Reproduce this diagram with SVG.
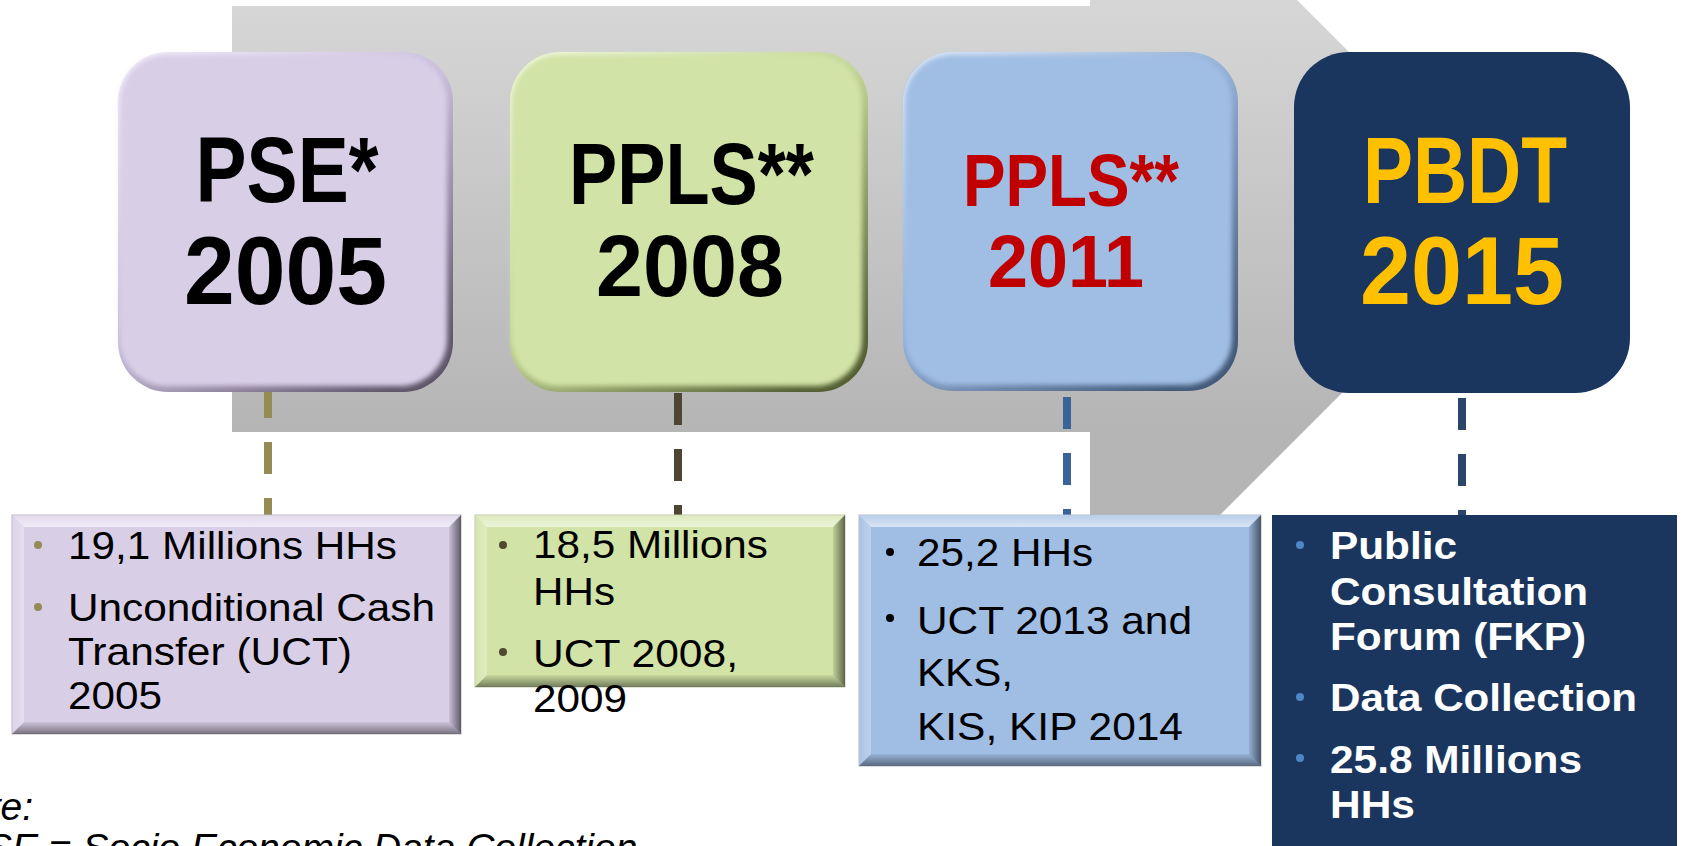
<svg xmlns="http://www.w3.org/2000/svg" width="1681" height="846" viewBox="0 0 1681 846">
<defs>
  <linearGradient id="arrowGrad" gradientUnits="userSpaceOnUse" x1="0" y1="6" x2="0" y2="432">
    <stop offset="0" stop-color="#d6d6d6"/>
    <stop offset="1" stop-color="#b5b5b5"/>
  </linearGradient>
  <linearGradient id="rimPurple" x1="0" y1="0" x2="0.8" y2="1">
    <stop offset="0" stop-color="#f4f0fa"/>
    <stop offset="0.5" stop-color="#cbbfdc"/>
    <stop offset="1" stop-color="#5f566a"/>
  </linearGradient>
  <linearGradient id="rimGreen" x1="0" y1="0" x2="0.8" y2="1">
    <stop offset="0" stop-color="#f4f9e2"/>
    <stop offset="0.5" stop-color="#c3d596"/>
    <stop offset="1" stop-color="#545f33"/>
  </linearGradient>
  <linearGradient id="rimBlue" x1="0" y1="0" x2="0.8" y2="1">
    <stop offset="0" stop-color="#e2eefc"/>
    <stop offset="0.5" stop-color="#93b0d6"/>
    <stop offset="1" stop-color="#435a7a"/>
  </linearGradient>
  <linearGradient id="bevTop" x1="0" y1="0" x2="0" y2="1">
    <stop offset="0" stop-color="#ffffff" stop-opacity="0.25"/>
    <stop offset="1" stop-color="#ffffff" stop-opacity="0.6"/>
  </linearGradient>
  <linearGradient id="bevLeft" x1="0" y1="0" x2="1" y2="0">
    <stop offset="0" stop-color="#ffffff" stop-opacity="0.1"/>
    <stop offset="1" stop-color="#ffffff" stop-opacity="0.3"/>
  </linearGradient>
  <linearGradient id="bevRight" x1="0" y1="0" x2="1" y2="0">
    <stop offset="0" stop-color="#000000" stop-opacity="0.08"/>
    <stop offset="1" stop-color="#000000" stop-opacity="0.55"/>
  </linearGradient>
  <linearGradient id="bevBottom" x1="0" y1="0" x2="0" y2="1">
    <stop offset="0" stop-color="#000000" stop-opacity="0.05"/>
    <stop offset="1" stop-color="#000000" stop-opacity="0.45"/>
  </linearGradient>
  <filter id="soft" x="-5%" y="-5%" width="110%" height="110%">
    <feGaussianBlur stdDeviation="2.5"/>
  </filter>
  <filter id="softer" x="-10%" y="-50%" width="120%" height="200%">
    <feGaussianBlur stdDeviation="2"/>
  </filter>
</defs>
<style>
  .title { font-family: "Liberation Sans", Arial, sans-serif; font-weight: bold; text-anchor: middle; }
  .body { font-family: "Liberation Sans", Arial, sans-serif; font-size: 39px; fill: #000000; }
  .bold { font-weight: bold; fill: #ffffff; }
  .note { font-family: "Liberation Sans", Arial, sans-serif; font-size: 39px; font-style: italic; fill: #000000; }
  .conn { fill: none; stroke-width: 8; stroke-dasharray: 32 24; }
  .bt { fill: url(#bevTop); }
  .bl { fill: url(#bevLeft); }
  .br { fill: url(#bevRight); }
  .bb { fill: url(#bevBottom); }
  .hl { fill: none; stroke: #ffffff; stroke-opacity: 0.55; stroke-width: 4; filter: url(#softer); }
</style>
<rect x="0" y="0" width="1681" height="846" fill="#ffffff"/>

<!-- background arrow -->
<g id="arrow">
  <polygon points="232,6 1090,6 1090,-207 1516,219 1090,645 1090,432 232,432" fill="url(#arrowGrad)"/>
</g>

<!-- connectors -->
<g id="connectors">
  <line class="conn" x1="268" y1="386" x2="268" y2="515" stroke="#958b55"/>
  <line class="conn" x1="678" y1="393" x2="678" y2="515" stroke="#4e4630"/>
  <line class="conn" x1="1067" y1="397" x2="1067" y2="515" stroke="#3a6399"/>
  <line class="conn" x1="1462" y1="398" x2="1462" y2="515" stroke="#2b4669"/>
</g>

<!-- top nodes -->
<g id="node-pse2005">
  <rect x="118" y="52" width="335" height="340" rx="50" fill="url(#rimPurple)"/>
  <rect x="120" y="55" width="327" height="331" rx="47" fill="#d8cfe7" filter="url(#soft)"/>
  <path class="hl" d="M165,62 H405"/>
  <text class="title" x="287" y="202" font-size="93" textLength="183" lengthAdjust="spacingAndGlyphs" fill="#000000">PSE*</text>
  <text class="title" x="285.5" y="304" font-size="96" textLength="203" lengthAdjust="spacingAndGlyphs" fill="#000000">2005</text>
</g>

<g id="node-ppls2008">
  <rect x="510" y="52" width="358" height="340" rx="50" fill="url(#rimGreen)"/>
  <rect x="512" y="55" width="350" height="331" rx="47" fill="#d1e3a6" filter="url(#soft)"/>
  <path class="hl" d="M557,62 H820"/>
  <text class="title" x="691.5" y="204" font-size="88" textLength="245" lengthAdjust="spacingAndGlyphs" fill="#000000">PPLS**</text>
  <text class="title" x="690" y="296" font-size="88" textLength="188" lengthAdjust="spacingAndGlyphs" fill="#000000">2008</text>
</g>

<g id="node-ppls2011">
  <rect x="903" y="52" width="335" height="339" rx="50" fill="url(#rimBlue)"/>
  <rect x="905" y="55" width="327" height="330" rx="47" fill="#a0bde3" filter="url(#soft)"/>
  <path class="hl" d="M950,62 H1190"/>
  <text class="title" x="1071" y="206" font-size="74" textLength="216" lengthAdjust="spacingAndGlyphs" fill="#c00000">PPLS**</text>
  <text class="title" x="1066" y="287" font-size="75" textLength="156" lengthAdjust="spacingAndGlyphs" fill="#c00000">2011</text>
</g>

<g id="node-pbdt2015">
  <rect x="1294" y="52" width="336" height="341" rx="55" fill="#1a365e"/>
  <text class="title" x="1465" y="203" font-size="95" textLength="204" lengthAdjust="spacingAndGlyphs" fill="#ffc000">PBDT</text>
  <text class="title" x="1462" y="304" font-size="96" textLength="204" lengthAdjust="spacingAndGlyphs" fill="#ffc000">2015</text>
</g>

<!-- bottom nodes -->
<g id="detail-pse2005">
  <rect x="12" y="515" width="449" height="219" fill="#d8cfe7" stroke="#bdb6c6" stroke-width="1"/>
  <polygon class="bt" points="12,515 461,515 449,527 24,527"/>
  <polygon class="bl" points="12,515 24,527 24,722 12,734"/>
  <polygon class="br" points="461,515 461,734 449,722 449,527"/>
  <polygon class="bb" points="12,734 461,734 449,722 24,722"/>
  <circle cx="38" cy="545" r="4" fill="#958b55"/>
  <circle cx="38" cy="607" r="4" fill="#958b55"/>
  <text class="body" x="68" y="559" textLength="329" lengthAdjust="spacingAndGlyphs">19,1 Millions HHs</text>
  <text class="body" x="68" y="621" textLength="367" lengthAdjust="spacingAndGlyphs">Unconditional Cash</text>
  <text class="body" x="68" y="665" textLength="284" lengthAdjust="spacingAndGlyphs">Transfer (UCT)</text>
  <text class="body" x="68" y="709" textLength="94" lengthAdjust="spacingAndGlyphs">2005</text>
</g>

<g id="detail-ppls2008">
  <rect x="475" y="515" width="370" height="172" fill="#d1e3a6" stroke="#bfc8a8" stroke-width="1"/>
  <polygon class="bt" points="475,515 845,515 833,527 487,527"/>
  <polygon class="bl" points="475,515 487,527 487,675 475,687"/>
  <polygon class="br" points="845,515 845,687 833,675 833,527"/>
  <polygon class="bb" points="475,687 845,687 833,675 487,675"/>
  <circle cx="503" cy="545" r="4" fill="#4f4a30"/>
  <circle cx="503" cy="652" r="4" fill="#4f4a30"/>
  <text class="body" x="533" y="558" textLength="235" lengthAdjust="spacingAndGlyphs">18,5 Millions</text>
  <text class="body" x="533" y="605" textLength="82" lengthAdjust="spacingAndGlyphs">HHs</text>
  <text class="body" x="533" y="667" textLength="205" lengthAdjust="spacingAndGlyphs">UCT 2008,</text>
  <text class="body" x="533" y="712" textLength="94" lengthAdjust="spacingAndGlyphs">2009</text>
</g>

<g id="detail-ppls2011">
  <rect x="859" y="515" width="402" height="251" fill="#a0bde3" stroke="#b0bccb" stroke-width="1"/>
  <polygon class="bt" points="859,515 1261,515 1249,527 871,527"/>
  <polygon class="bl" points="859,515 871,527 871,754 859,766"/>
  <polygon class="br" points="1261,515 1261,766 1249,754 1249,527"/>
  <polygon class="bb" points="859,766 1261,766 1249,754 871,754"/>
  <circle cx="890" cy="552" r="4" fill="#000000"/>
  <circle cx="890" cy="618" r="4" fill="#000000"/>
  <text class="body" x="917" y="566" textLength="176" lengthAdjust="spacingAndGlyphs">25,2 HHs</text>
  <text class="body" x="917" y="634" textLength="275" lengthAdjust="spacingAndGlyphs">UCT 2013 and</text>
  <text class="body" x="917" y="686" textLength="96" lengthAdjust="spacingAndGlyphs">KKS,</text>
  <text class="body" x="917" y="740" textLength="266" lengthAdjust="spacingAndGlyphs">KIS, KIP 2014</text>
</g>

<g id="detail-pbdt2015">
  <rect x="1272" y="515" width="405" height="340" fill="#1a365e"/>
  <circle cx="1300" cy="545" r="4" fill="#4a86c8"/>
  <circle cx="1300" cy="697" r="4" fill="#4a86c8"/>
  <circle cx="1300" cy="758" r="4" fill="#4a86c8"/>
  <text class="body bold" x="1330" y="559" textLength="127" lengthAdjust="spacingAndGlyphs">Public</text>
  <text class="body bold" x="1330" y="605" textLength="258" lengthAdjust="spacingAndGlyphs">Consultation</text>
  <text class="body bold" x="1330" y="650" textLength="256" lengthAdjust="spacingAndGlyphs">Forum (FKP)</text>
  <text class="body bold" x="1330" y="711" textLength="307" lengthAdjust="spacingAndGlyphs">Data Collection</text>
  <text class="body bold" x="1330" y="773" textLength="252" lengthAdjust="spacingAndGlyphs">25.8 Millions</text>
  <text class="body bold" x="1330" y="818" textLength="85" lengthAdjust="spacingAndGlyphs">HHs</text>
</g>

<!-- note -->
<g id="note">
  <text class="note" x="33" y="820" text-anchor="end">Note:</text>
  <text class="note" x="-40" y="861">PSE = Socio Economic Data Collection</text>
</g>
</svg>
